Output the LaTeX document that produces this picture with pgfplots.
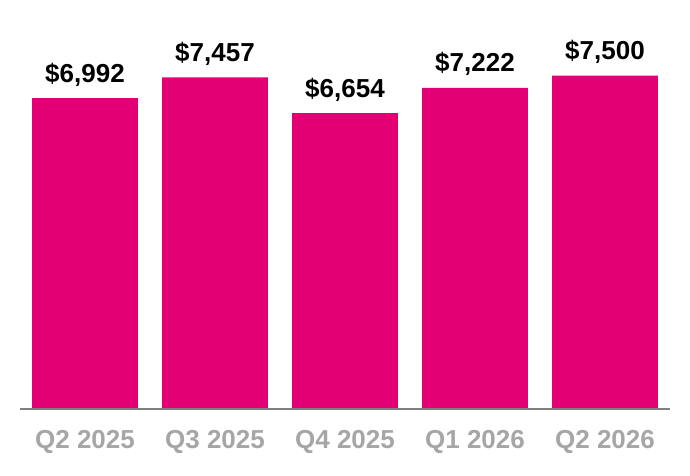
\documentclass[border=0pt]{standalone}
\usepackage{fontspec}
\setmainfont{Liberation Sans}
\usepackage{pgfplots}
\pgfplotsset{compat=1.18}
\definecolor{tmag}{HTML}{E20074}
\definecolor{ticklab}{HTML}{A6A6A6}
\definecolor{basegray}{HTML}{7F7F7F}
\begin{document}
\begin{tikzpicture}
\path[use as bounding box] (-20pt,-67pt) rectangle (670pt,409pt);
\begin{axis}[
    scale only axis,
    width=650pt, height=409pt,
    at={(0,0)}, anchor=south west,
    xmin=-0.5, xmax=4.5,
    ymin=0, ymax=9200,
    axis line style={draw=none},
    ytick=\empty,
    xtick=data,
    xticklabels={Q2 2025, Q3 2025, Q4 2025, Q1 2026, Q2 2026},
    major tick length=0pt,
    xticklabel style={font=\fontsize{26}{30}\selectfont\bfseries, text=ticklab, anchor=base, yshift=-40pt, inner sep=0pt},
    clip=false,
    point meta=explicit symbolic,
    nodes near coords,
    every node near coord/.append style={font=\fontsize{26}{30}\selectfont\bfseries, text=black, anchor=base, yshift=16pt, inner sep=0pt},
]
\addplot[ybar, bar width=0.815, fill=tmag, draw=none, bar shift=0pt]
    coordinates {
    (0,6992)[\$6,992]
    (1,7457)[\$7,457]
    (2,6654)[\$6,654]
    (3,7222)[\$7,222]
    (4,7500)[\$7,500]
    };
\draw[draw=basegray, line width=2pt] (axis cs:-0.5,0) -- (axis cs:4.5,0);
\end{axis}
\end{tikzpicture}
\end{document}
